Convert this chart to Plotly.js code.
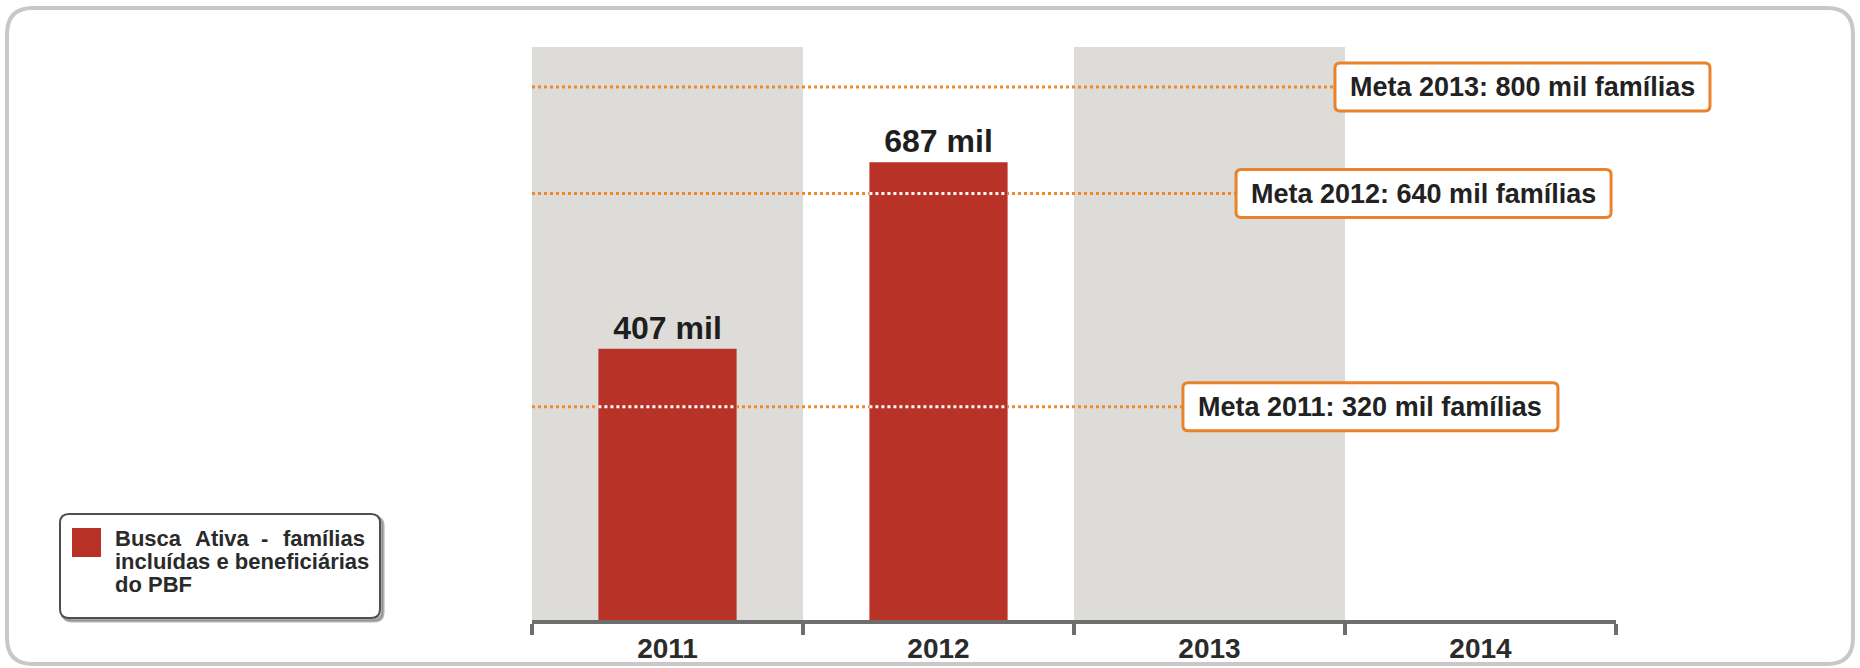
<!DOCTYPE html>
<html>
<head>
<meta charset="utf-8">
<script src="https://cdn.plot.ly/plotly-3.0.1.min.js"></script>
<style>
  html, body { margin: 0; padding: 0; background: #ffffff; }
  #chart { width: 1860px; height: 668px; }
</style>
</head>
<body>
<div id="chart"></div>
<script>
// ---------- data ----------
const years = ['2011', '2012', '2013', '2014'];
const buscaAtiva = [407, 687, null, null];          // mil famílias
const seriesName = 'Busca Ativa - famílias incluídas e beneficiárias do PBF';
const metaValues = [320, 640, 800];                  // mil famílias
const metaLabels = ['Meta 2011: 320 mil famílias', 'Meta 2012: 640 mil famílias', 'Meta 2013: 800 mil famílias'];
const shadedYears = ['2011', '2013'];
const legendLine1 = ['Busca', 'Ativa', '-', 'famílias'];
const legendLine2 = 'incluídas e beneficiárias';
const legendLine3 = 'do PBF';

// ---------- layout constants ----------
const W = 1860, H = 668;
const M = { l: 532, r: 244, t: 47, b: 48 };
const PW = W - M.l - M.r, PH = H - M.t - M.b;
const Y_MAX = 860;
const BAR_GAP = 0.49;
const metaBoxLeft = [1.902, 2.098, 2.463];   // x (category units) where each target box starts
const BOX_W = 375, BOX_H = 48;
const ORANGE = '#ef8a2c', BAR_COLOR = '#b83227', BAND = '#dddcd8';
const BOLD = 'Arial, "Liberation Sans", sans-serif';

const px2x = px => (px - M.l) / PW;
const px2y = py => (H - M.b - py) / PH;
const catToPaper = c => (c + 0.5) / years.length;
const valToPaper = v => v / Y_MAX;

function roundRect(x0, y0, x1, y1, r) {          // pixel box -> paper path
  const P = (x, y) => px2x(x).toFixed(5) + ',' + px2y(y).toFixed(5);
  return 'M' + P(x0 + r, y0) + ' L' + P(x1 - r, y0) + ' Q' + P(x1, y0) + ' ' + P(x1, y0 + r) +
         ' L' + P(x1, y1 - r) + ' Q' + P(x1, y1) + ' ' + P(x1 - r, y1) +
         ' L' + P(x0 + r, y1) + ' Q' + P(x0, y1) + ' ' + P(x0, y1 - r) +
         ' L' + P(x0, y0 + r) + ' Q' + P(x0, y0) + ' ' + P(x0 + r, y0) + ' Z';
}
const paperToPxX = p => M.l + p * PW;
const paperToPxY = p => H - M.b - p * PH;

const shapes = [];
const annotations = [];

// outer frame
shapes.push({ type: 'path', xref: 'paper', yref: 'paper', layer: 'below',
  path: roundRect(7, 8, 1853, 664, 26), line: { color: '#c8c8c8', width: 4 }, fillcolor: 'rgba(0,0,0,0)' });

// alternating shaded category bands
shadedYears.forEach(y => {
  const i = years.indexOf(y);
  shapes.push({ type: 'rect', xref: 'x', yref: 'paper', layer: 'below',
    x0: i - 0.5, x1: i + 0.5, y0: 0, y1: 1, fillcolor: BAND, line: { width: 0 } });
});

// target lines (dotted), ending at their boxes
metaValues.forEach((v, k) => {
  shapes.push({ type: 'line', xref: 'x', yref: 'y', layer: 'below',
    x0: -0.5, x1: metaBoxLeft[k], y0: v, y1: v, line: { color: ORANGE, width: 3, dash: 'dot' } });
  // white dots where the line crosses a bar
  buscaAtiva.forEach((b, i) => {
    if (b != null && b > v) {
      const hw = (1 - BAR_GAP) / 2;
      shapes.push({ type: 'line', xref: 'x', yref: 'y', layer: 'above',
        x0: i - hw, x1: i + hw, y0: v, y1: v, line: { color: '#ffffff', width: 3, dash: 'dot' } });
    }
  });
  // box
  const bx = paperToPxX(catToPaper(metaBoxLeft[k]));
  const by = paperToPxY(valToPaper(v));
  shapes.push({ type: 'path', xref: 'paper', yref: 'paper', layer: 'above',
    path: roundRect(bx, by - BOX_H / 2, bx + BOX_W, by + BOX_H / 2, 5),
    line: { color: '#e8832c', width: 3 }, fillcolor: '#ffffff' });
  annotations.push({ xref: 'paper', yref: 'y', x: px2x(bx + BOX_W / 2), y: v,
    xanchor: 'center', yanchor: 'middle', showarrow: false, text: metaLabels[k],
    font: { family: BOLD, size: 27, weight: 'bold', color: '#222222' } });
});

// custom legend box
shapes.push({ type: 'path', xref: 'paper', yref: 'paper', layer: 'above',
  path: roundRect(63, 517, 383, 621, 9), line: { color: 'rgba(80,80,80,0.45)', width: 3 }, fillcolor: 'rgba(90,90,90,0.35)' });
shapes.push({ type: 'path', xref: 'paper', yref: 'paper', layer: 'above',
  path: roundRect(60, 514, 380, 618, 9), line: { color: '#4f4f4f', width: 2 }, fillcolor: '#ffffff' });
shapes.push({ type: 'rect', xref: 'paper', yref: 'paper', layer: 'above',
  x0: px2x(72), x1: px2x(101), y0: px2y(557), y1: px2y(528), fillcolor: BAR_COLOR, line: { width: 0 } });

const LFONT = { family: BOLD, size: 22, weight: 'bold', color: '#2a2a2a' };
const wordX = [113, 193, 259, 367];
legendLine1.forEach((w, i) => {
  annotations.push({ xref: 'paper', yref: 'paper', x: px2x(wordX[i]), y: px2y(538),
    xanchor: i === legendLine1.length - 1 ? 'right' : 'left', yanchor: 'middle', showarrow: false,
    text: w, font: LFONT });
});
annotations.push({ xref: 'paper', yref: 'paper', x: px2x(113), y: px2y(561), xanchor: 'left', yanchor: 'middle',
  showarrow: false, text: legendLine2, font: LFONT });
annotations.push({ xref: 'paper', yref: 'paper', x: px2x(113), y: px2y(584), xanchor: 'left', yanchor: 'middle',
  showarrow: false, text: legendLine3, font: LFONT });

const trace = {
  type: 'bar', x: years, y: buscaAtiva, name: seriesName,
  marker: { color: BAR_COLOR, line: { width: 0 } },
  texttemplate: '%{y} mil', textposition: 'outside', cliponaxis: false, constraintext: 'none',
  textfont: { family: BOLD, size: 32, weight: 'bold', color: '#1e1e1e' },
  hoverinfo: 'x+y', showlegend: false
};

const layout = {
  width: W, height: H, margin: M,
  paper_bgcolor: '#ffffff', plot_bgcolor: 'rgba(0,0,0,0)',
  bargap: BAR_GAP, showlegend: false,
  xaxis: {
    type: 'category', categoryorder: 'array', categoryarray: years, range: [-0.5, 3.5],
    showline: true, linecolor: '#6e6e6e', linewidth: 4,
    ticks: 'outside', tickson: 'boundaries', ticklen: 11, tickwidth: 4, tickcolor: '#6e6e6e',
    tickfont: { family: BOLD, size: 28, weight: 'bold', color: '#2b2b2b' },
    showgrid: false, zeroline: false, fixedrange: true
  },
  yaxis: { range: [0, Y_MAX], visible: false, showgrid: false, zeroline: false, fixedrange: true },
  shapes: shapes, annotations: annotations
};

Plotly.newPlot('chart', [trace], layout, { staticPlot: true, displayModeBar: false });
</script>
</body>
</html>
